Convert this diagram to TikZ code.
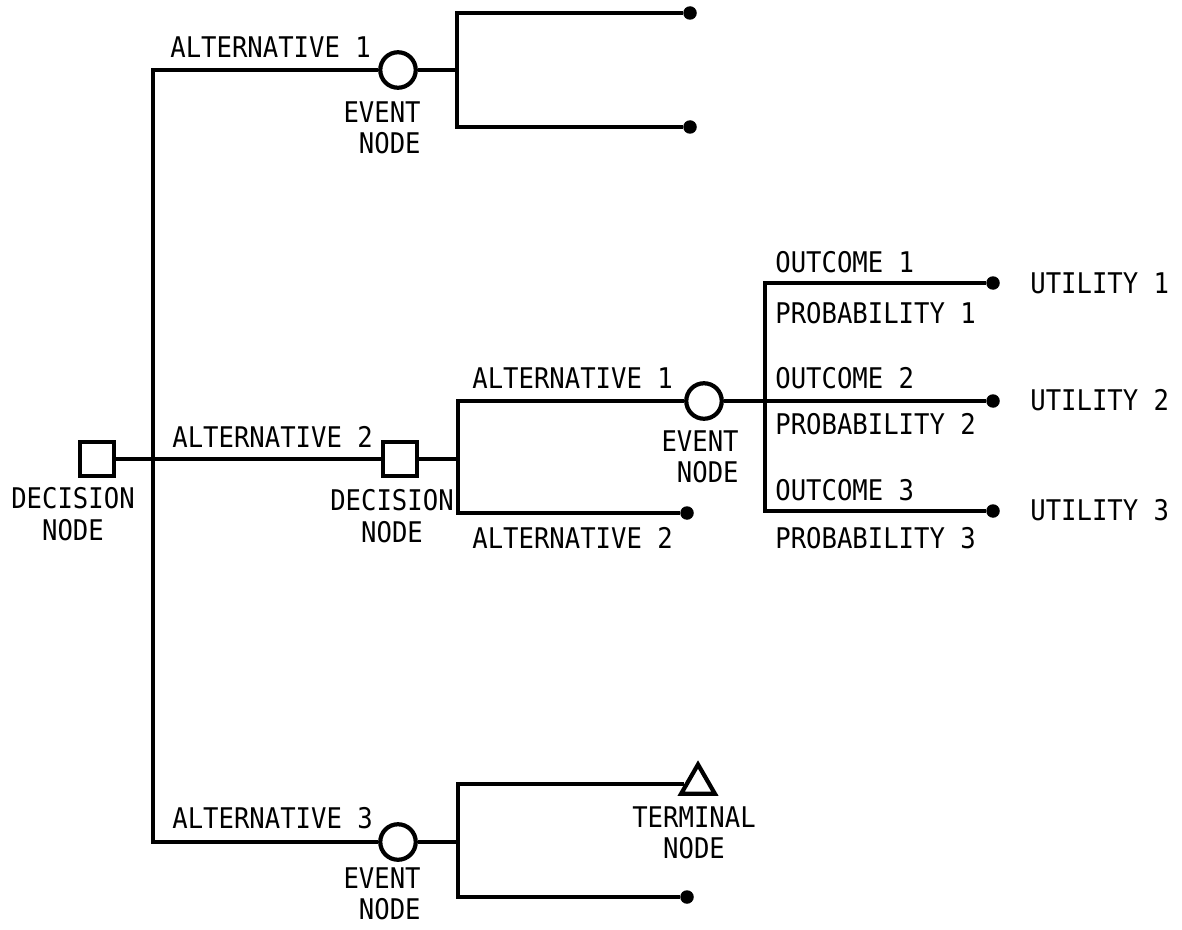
\documentclass[tikz,border=0pt]{standalone}
\usepackage{fontspec}
\setmainfont{DejaVu Sans Mono}[FakeStretch=0.9]
\usetikzlibrary{shapes.geometric}
\tikzset{
  conn/.style={line width=2.1pt, line join=miter},
  decbox/.style={draw, rectangle, line width=2.4pt, minimum size=0.69cm, inner sep=0pt, fill=white},
  evcirc/.style={draw, circle, line width=2.4pt, minimum size=0.71cm, inner sep=0pt, fill=white},
  enddot/.style={circle, fill=black, minimum size=0.27cm, inner sep=0pt},
  termtri/.style={draw, regular polygon, regular polygon sides=3, line width=2.4pt, minimum size=0.78cm, inner sep=0pt},
  lbl/.style={inner sep=0pt, font={\fontsize{16.2}{18}\selectfont}},
}
\begin{document}
\begin{tikzpicture}[x=0.02cm, y=-0.02cm]
\useasboundingbox (0,0) rectangle (1182,929);

% nodes
\node[decbox] (d1) at (97,459) {};
\node[decbox] (d2) at (400,459) {};
\node[evcirc] (ea) at (398,70) {};
\node[evcirc] (e2) at (704,401) {};
\node[evcirc] (eb) at (398,842) {};
\node[termtri] (term) at (698,784) {};

\node[enddot] (t1) at (690,13) {};
\node[enddot] (t2) at (690,127) {};
\node[enddot] (a2) at (687,513) {};
\node[enddot] (u1) at (993,283) {};
\node[enddot] (u2) at (993,401) {};
\node[enddot] (u3) at (993,511) {};
\node[enddot] (t3) at (687,897) {};

% junction coordinates
\coordinate (c1) at (153,70);
\coordinate (j1) at (153,459);
\coordinate (c3) at (153,842);
\coordinate (tf) at (457,70);
\coordinate (tf1) at (457,13);
\coordinate (tf2) at (457,127);
\coordinate (mf) at (458,459);
\coordinate (mf1) at (458,401);
\coordinate (mf2) at (458,513);
\coordinate (k1) at (765,283);
\coordinate (k3) at (765,511);
\coordinate (bf) at (458,842);
\coordinate (bf1) at (458,784);
\coordinate (bf2) at (458,897);

% connectors
\draw[conn] (ea) -- (c1) -- (c3) -- (eb);
\draw[conn] (d1) -- (j1) -- (d2);
\draw[conn] (ea) -- (tf);
\draw[conn] (t1) -- (tf1) -- (tf2) -- (t2);
\draw[conn] (d2) -- (mf);
\draw[conn] (e2) -- (mf1) -- (mf2) -- (a2);
\draw[conn] (e2) -- (u2);
\draw[conn] (u1) -- (k1) -- (k3) -- (u3);
\draw[conn] (eb) -- (bf);
\draw[conn] (term) -- (bf1) -- (bf2) -- (t3);

% labels
\node[lbl, align=center] (l1) at (73,514) {DECISION\\NODE};
\node[lbl, align=center] (l2) at (392,516) {DECISION\\NODE};
\node[lbl, align=right, anchor=east] (l3) at (421,128) {EVENT\\NODE};
\node[lbl, align=right, anchor=east] (l4) at (739,457) {EVENT\\NODE};
\node[lbl, align=right, anchor=east] (l5) at (421,894) {EVENT\\NODE};
\node[lbl, align=center] (l6) at (694,833) {TERMINAL\\NODE};

\node[lbl, anchor=west] (aa1) at (170,47) {ALTERNATIVE 1};
\node[lbl, anchor=west] (aa2) at (172,437) {ALTERNATIVE 2};
\node[lbl, anchor=west] (aa3) at (172,818) {ALTERNATIVE 3};
\node[lbl, anchor=west] (ab1) at (472,378) {ALTERNATIVE 1};
\node[lbl, anchor=west] (ab2) at (472,538) {ALTERNATIVE 2};

\node[lbl, anchor=west] (o1) at (775,262) {OUTCOME 1};
\node[lbl, anchor=west] (p1) at (775,313) {PROBABILITY 1};
\node[lbl, anchor=west] (o2) at (775,378) {OUTCOME 2};
\node[lbl, anchor=west] (p2) at (775,424) {PROBABILITY 2};
\node[lbl, anchor=west] (o3) at (775,490) {OUTCOME 3};
\node[lbl, anchor=west] (p3) at (775,538) {PROBABILITY 3};

\node[lbl, anchor=west] (v1) at (1030,283) {UTILITY 1};
\node[lbl, anchor=west] (v2) at (1030,400) {UTILITY 2};
\node[lbl, anchor=west] (v3) at (1030,510) {UTILITY 3};
\end{tikzpicture}
\end{document}
